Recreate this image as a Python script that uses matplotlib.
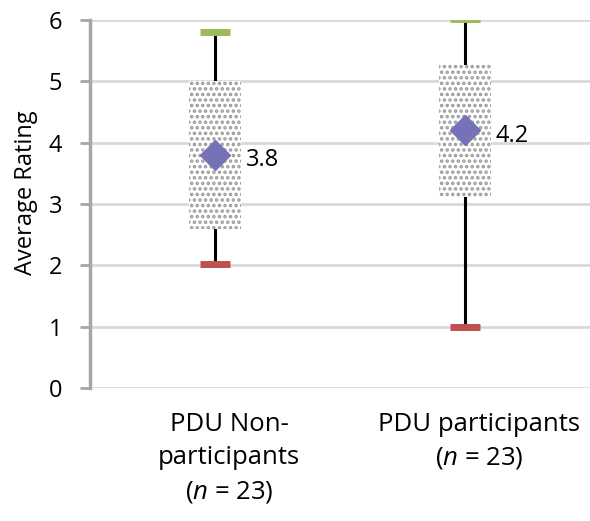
import matplotlib
matplotlib.use("Agg")
import matplotlib.pyplot as plt
import matplotlib.transforms as mtransforms
from matplotlib.patches import Rectangle

# ---- data ----
categories = ["PDU Non-\nparticipants\n($n$ = 23)", "PDU participants\n($n$ = 23)"]
box_low = [2.6, 3.12]
box_high = [5.0, 5.27]
means = [3.8, 4.2]
mins = [2.02, 1.0]
maxs = [5.8, 6.02]
mean_labels = ["3.8", "4.2"]
yticks = [0, 1, 2, 3, 4, 5, 6]

plt.rcParams['font.family'] = ['Open Sans', 'DejaVu Sans']
plt.rcParams['mathtext.fontset'] = 'custom'
plt.rcParams['mathtext.it'] = 'Open Sans:italic'
plt.rcParams['mathtext.rm'] = 'Open Sans'
plt.rcParams['hatch.linewidth'] = 1.7

fig = plt.figure(figsize=(5.9, 5.21), dpi=100)
ax = fig.add_axes([90/590, 1-388/521, 1-90/590, (388-20)/521])

xs = [0.5, 1.5]
box_w = 0.205

for i, x in enumerate(xs):
    ax.plot([x, x], [mins[i], maxs[i]], color='black', lw=2.2, zorder=2, solid_capstyle='butt')
    ax.add_patch(Rectangle((x - box_w/2, box_low[i]), box_w, box_high[i]-box_low[i],
                           facecolor='white', edgecolor='#9A9A9A', hatch='...', zorder=3, lw=0))
    ax.plot([x], [maxs[i]], marker='_', ms=21, mew=5, color='#9BBB59', zorder=4, linestyle='none')
    ax.plot([x], [mins[i]], marker='_', ms=21, mew=5, color='#C0504D', zorder=4, linestyle='none')
    ax.plot([x], [means[i]], marker='D', ms=15, color='#7672B8', zorder=5, linestyle='none')
    ax.annotate(mean_labels[i], (x, means[i]), xytext=(22, -4), textcoords='offset points',
                ha='left', va='center', fontsize=17, color='black')

ax.set_xlim(0, 2)
ax.set_ylim(0, 6)
ax.set_yticks(yticks)
ax.set_yticklabels([str(t) for t in yticks], fontsize=17)
ax.yaxis.grid(True, color='#D9D9D9', lw=2)
ax.set_axisbelow(True)
for s in ['top', 'right', 'bottom']:
    ax.spines[s].set_visible(False)
ax.spines['left'].set_color('#A6A6A6')
ax.spines['left'].set_linewidth(2.5)
ax.tick_params(axis='y', length=7, width=2, color='#A6A6A6', pad=13, direction='out')

ax.set_xticks(xs)
ax.set_xticklabels(categories, fontsize=18.5, linespacing=1.45, va='top')
ax.tick_params(axis='x', length=0, pad=17)
offset = mtransforms.ScaledTranslation(14/100, 0, fig.dpi_scale_trans)
for lab in ax.get_xticklabels():
    lab.set_transform(lab.get_transform() + offset)

ax.set_ylabel("Average Rating", fontsize=17)
ax.yaxis.set_label_coords(-0.105, 0.53)

fig.savefig("out.png", dpi=100)
